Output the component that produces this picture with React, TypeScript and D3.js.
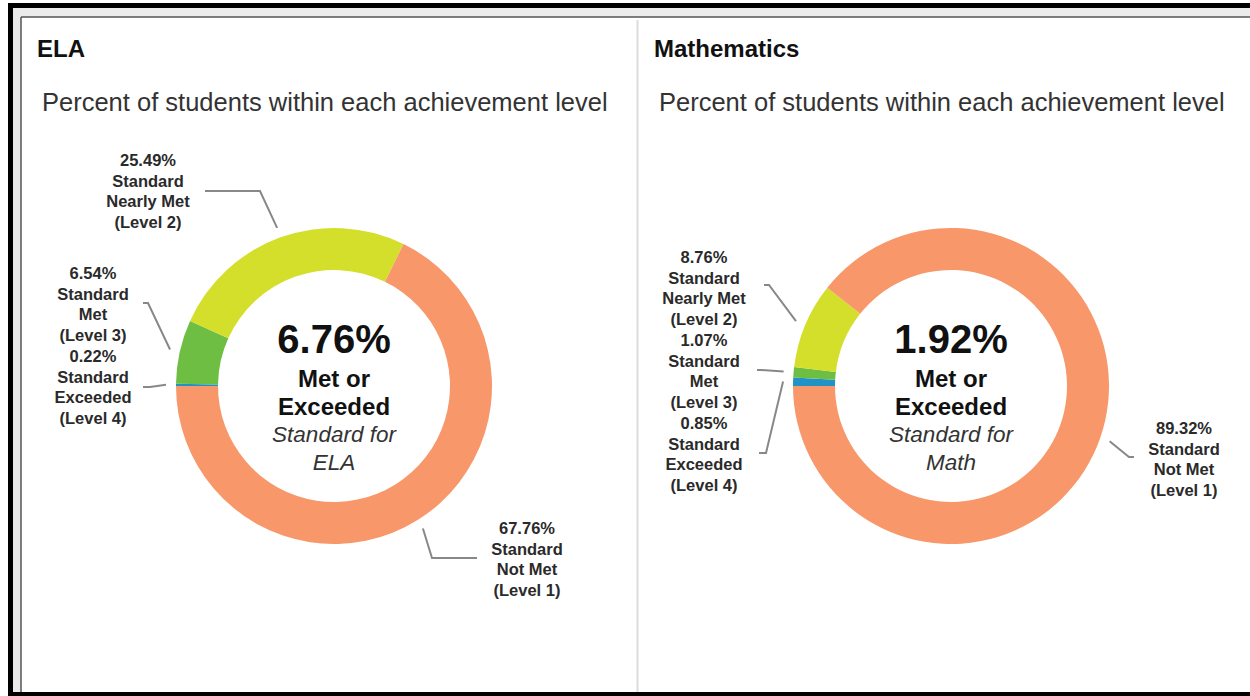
import React from "react";
import * as d3 from "d3";

const levelKeys = ["exceeded", "met", "nearlyMet", "notMet"];
const levelLines = [
  ["Standard", "Exceeded", "(Level 4)"],
  ["Standard", "Met", "(Level 3)"],
  ["Standard", "Nearly Met", "(Level 2)"],
  ["Standard", "Not Met", "(Level 1)"],
];
const levelColors = ["#1f93c8", "#6ebe44", "#d4df2b", "#f7976a"];

const subjects = ["ELA", "Mathematics"];
const subjectShort = ["ELA", "Math"];
const elaValues = [0.22, 6.54, 25.49, 67.76];
const mathValues = [0.85, 1.07, 8.76, 89.32];
const subjectValues = [elaValues, mathValues];

// Label layout (offsets from donut centre): label centre, connector elbow, connector end
const labelLayouts = [
  [
    { lx: -241, ly: -30, ex: -184, ey: 1, tx: -191, ty: 1 },
    { lx: -241, ly: -113, ex: -186, ey: -83, tx: -191, ty: -83 },
    { lx: -186, ly: -226, ex: -74, ey: -195, tx: -129, ty: -195 },
    { lx: 193, ly: 142, ex: 98, ey: 172, tx: 143, ty: 172 },
  ],
  [
    { lx: -247, ly: 37, ex: -185, ey: 67, tx: -192, ty: 67 },
    { lx: -247, ly: -46, ex: -190, ey: -16, tx: -194, ty: -16 },
    { lx: -247, ly: -129, ex: -182, ey: -101, tx: -187, ty: -101 },
    { lx: 233, ly: 42, ex: 178, ey: 71, tx: 183, ty: 71 },
  ],
];

const W = 1250;
const H = 696;
const FONT = "'Liberation Sans', Arial, Helvetica, sans-serif";
const panelLeft = [20, 637];
const cxOffset = 314;
const cy = 386;
const outerR = 158;
const innerR = 116;
const lineGap = 20.6;

const fmt = d3.format(".2f");

function Donut({ idx }: { idx: number }) {
  const values = subjectValues[idx];
  const cx = panelLeft[idx] + cxOffset;
  const pie = d3
    .pie<number>()
    .sort(null)
    .value((d) => d)
    .startAngle(-Math.PI / 2)
    .endAngle((3 * Math.PI) / 2);
  const arcs = pie(values);
  const arc = d3.arc<d3.PieArcDatum<number>>().innerRadius(innerR).outerRadius(outerR);
  const leadArc = d3.arc<d3.PieArcDatum<number>>().innerRadius(168).outerRadius(168);
  const metOrExceeded = values[0] + values[1];
  const line = d3.line();

  return (
    <g>
      <text x={panelLeft[idx] + 17} y={57} fontFamily={FONT} fontWeight="bold" fontSize={24} fill="#111">
        {subjects[idx]}
      </text>
      <text x={panelLeft[idx] + 22} y={111} fontFamily={FONT} fontSize={25.5} fill="#333">
        Percent of students within each achievement level
      </text>
      <g transform={`translate(${cx},${cy})`}>
        {arcs.map((a, i) => (
          <path key={levelKeys[i]} d={arc(a) || ""} fill={levelColors[i]} />
        ))}
        {arcs.map((a, i) => {
          const L = labelLayouts[idx][i];
          const p = leadArc.centroid(a);
          return (
            <g key={"lbl" + i}>
              <path
                d={line([p as [number, number], [L.ex, L.ey], [L.tx, L.ty]]) || ""}
                fill="none"
                stroke="#888"
                strokeWidth={2}
              />
              <text textAnchor="middle" fontFamily={FONT} fontWeight="bold" fontSize={16.5} fill="#2a2a2a">
                {[fmt(values[i]) + "%", ...levelLines[i]].map((t, j) => (
                  <tspan key={j} x={L.lx} y={L.ly + 6 + j * lineGap}>
                    {t}
                  </tspan>
                ))}
              </text>
            </g>
          );
        })}
        <g fontFamily={FONT} textAnchor="middle">
          <text y={-33} fontWeight="bold" fontSize={40} fill="#111">
            {fmt(metOrExceeded) + "%"}
          </text>
          <text y={1} fontWeight="bold" fontSize={24} fill="#111">
            Met or
          </text>
          <text y={29} fontWeight="bold" fontSize={24} fill="#111">
            Exceeded
          </text>
          <text y={56} fontStyle="italic" fontSize={22.5} fill="#333">
            Standard for
          </text>
          <text y={84} fontStyle="italic" fontSize={22.5} fill="#333">
            {subjectShort[idx]}
          </text>
        </g>
      </g>
    </g>
  );
}

export default function App() {
  return (
    <svg
      width={W}
      height={H}
      style={{ position: "absolute", left: 0, top: 0, background: "#fff" }}
    >
      <rect x={0} y={0} width={W} height={H} fill="#fff" />
      <rect x={8} y={3} width={W - 8} height={H - 3} fill="#ebebeb" />
      <rect x={21} y={17} width={W - 21} height={H - 17 - 4} fill="#fff" />
      <line x1={21} y1={17} x2={W} y2={17} stroke="#555" strokeWidth={1.5} />
      <line x1={21} y1={17} x2={21} y2={H - 4} stroke="#555" strokeWidth={1.5} />
      <rect x={8} y={3} width={W - 8} height={5} fill="#000" />
      <rect x={8} y={3} width={5} height={H - 3} fill="#000" />
      <rect x={8} y={H - 4} width={W - 8} height={4} fill="#000" />
      <line x1={637.5} y1={20} x2={637.5} y2={H - 4} stroke="#dcdcdc" strokeWidth={2} />
      <Donut idx={0} />
      <Donut idx={1} />
    </svg>
  );
}
